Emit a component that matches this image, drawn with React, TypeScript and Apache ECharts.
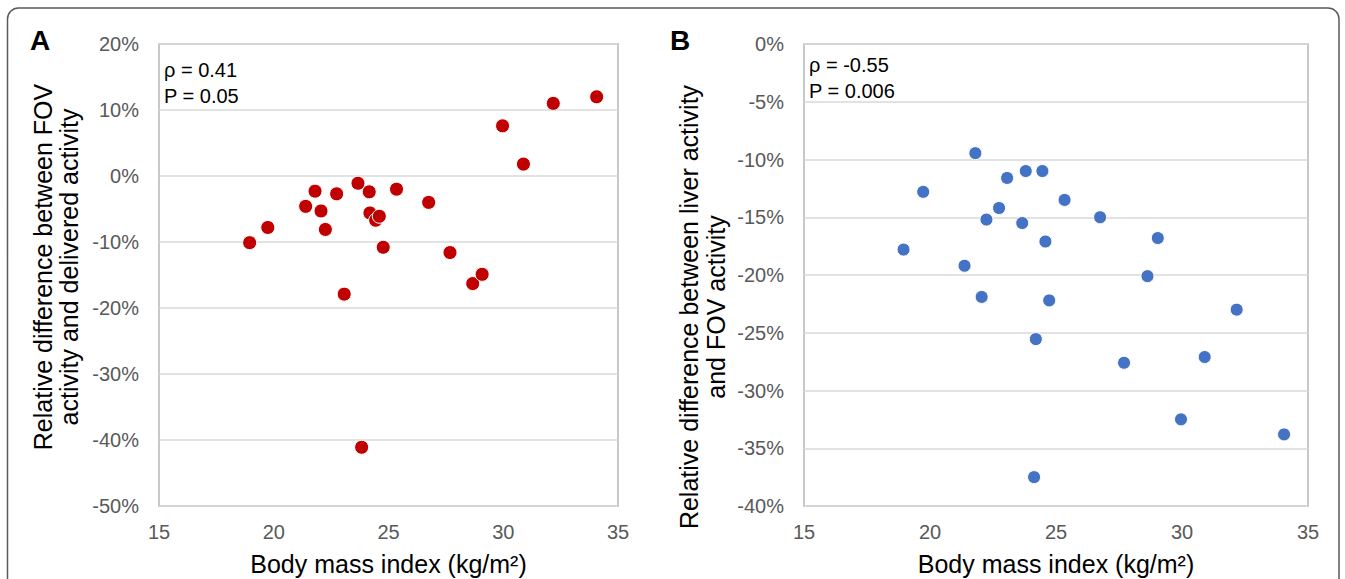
import React, { useEffect, useRef } from "react";
import * as echarts from "echarts";

// Panel A: BMI vs relative difference between FOV activity and delivered activity (%)
const bmiA = [18.95, 19.74, 21.39, 21.8, 22.06, 22.25, 22.74, 23.07, 23.67, 23.83, 24.16, 24.19, 24.44, 24.6, 24.77, 25.35, 26.75, 27.68, 28.67, 29.08, 29.97, 30.88, 32.18, 34.07];
const diffA = [-10.1, -7.8, -4.6, -2.3, -5.3, -8.1, -2.7, -17.9, -1.1, -41.1, -2.4, -5.6, -6.7, -6.1, -10.8, -2.0, -4.0, -11.6, -16.3, -14.9, 7.6, 1.8, 11.0, 12.0];

// Panel B: BMI vs relative difference between liver activity and FOV activity (%)
const bmiB = [18.95, 19.73, 21.37, 21.8, 22.05, 22.24, 22.74, 23.06, 23.66, 23.8, 24.13, 24.2, 24.46, 24.58, 24.73, 25.34, 26.75, 27.7, 28.63, 29.04, 29.96, 30.9, 32.17, 34.05];
const diffB = [-17.8, -12.8, -19.2, -9.45, -21.9, -15.2, -14.2, -11.6, -15.5, -11.0, -37.5, -25.55, -11.0, -17.1, -22.2, -13.5, -15.0, -27.6, -20.1, -16.8, -32.5, -27.1, -23.0, -33.8];

const xTicks = { min: 15, max: 35, interval: 5 };
const yTicksA = { min: -50, max: 20, interval: 10 };
const yTicksB = { min: -40, max: 0, interval: 5 };

const statsA = ["ρ = 0.41", "P = 0.05"];
const statsB = ["ρ = -0.55", "P = 0.006"];
const xTitle = "Body mass index (kg/m²)";
const yTitleA = "Relative difference between FOV\nactivity and delivered activity";
const yTitleB = "Relative difference between liver activity\nand FOV activity";

const FONT = "'Liberation Sans', Arial, sans-serif";

export default function App() {
  const ref = useRef<HTMLDivElement>(null);
  useEffect(() => {
    if (!ref.current) return;
    const chart = echarts.init(ref.current, null, { renderer: "svg" });
    const tickLabel = { color: "#595959", fontSize: 20, fontFamily: FONT };
    const xAxisBase = (gridIndex: number) => ({
      type: "value",
      gridIndex,
      min: xTicks.min,
      max: xTicks.max,
      interval: xTicks.interval,
      axisLine: { show: false },
      axisTick: { show: false },
      splitLine: { show: false },
      axisLabel: { ...tickLabel, margin: 16 },
    });
    const yAxisBase = (gridIndex: number, t: any) => ({
      type: "value",
      gridIndex,
      min: t.min,
      max: t.max,
      interval: t.interval,
      axisLine: { show: false },
      axisTick: { show: false },
      splitLine: { show: true, lineStyle: { color: "#D9D9D9", width: 1.5 } },
      axisLabel: { ...tickLabel, margin: 20, formatter: "{value}%" },
    });
    const option: any = {
      animation: false,
      backgroundColor: "#ffffff",
      grid: [
        { left: 159, top: 44, width: 459, height: 462, show: true, borderColor: "#C8C8C8", borderWidth: 2, backgroundColor: "transparent" },
        { left: 804, top: 44, width: 504, height: 462, show: true, borderColor: "#C8C8C8", borderWidth: 2, backgroundColor: "transparent" },
      ],
      xAxis: [xAxisBase(0), xAxisBase(1)],
      yAxis: [yAxisBase(0, yTicksA), yAxisBase(1, yTicksB)],
      series: [
        {
          type: "scatter",
          xAxisIndex: 0,
          yAxisIndex: 0,
          data: bmiA.map((x, i) => [x, diffA[i]]),
          symbolSize: 14,
          itemStyle: { color: "#C00000", borderColor: "#ffffff", borderWidth: 1, opacity: 1 },
        },
        {
          type: "scatter",
          xAxisIndex: 1,
          yAxisIndex: 1,
          data: bmiB.map((x, i) => [x, diffB[i]]),
          symbolSize: 13,
          itemStyle: { color: "#4472C4", borderColor: "#ffffff", borderWidth: 1, opacity: 1 },
        },
      ],
      graphic: [
        {
          type: "rect",
          z: -10,
          shape: { x: 7.5, y: 8, width: 1331.5, height: 620, r: 11 },
          style: { fill: "none", stroke: "#5a5a5a", lineWidth: 1.5 },
        },
        { type: "text", x: 40, y: 40, style: { text: "A", font: `bold 28px ${FONT}`, fill: "#000", textAlign: "center", textVerticalAlign: "middle" } },
        { type: "text", x: 680, y: 40, style: { text: "B", font: `bold 28px ${FONT}`, fill: "#000", textAlign: "center", textVerticalAlign: "middle" } },
        { type: "text", x: 164, y: 70, style: { text: statsA[0], font: `20px ${FONT}`, fill: "#000", textVerticalAlign: "middle" } },
        { type: "text", x: 164, y: 96, style: { text: statsA[1], font: `20px ${FONT}`, fill: "#000", textVerticalAlign: "middle" } },
        { type: "text", x: 809, y: 65, style: { text: statsB[0], font: `20px ${FONT}`, fill: "#000", textVerticalAlign: "middle" } },
        { type: "text", x: 809, y: 90.5, style: { text: statsB[1], font: `20px ${FONT}`, fill: "#000", textVerticalAlign: "middle" } },
        { type: "text", x: 388.5, y: 564, style: { text: xTitle, font: `25px ${FONT}`, fill: "#000", textAlign: "center", textVerticalAlign: "middle" } },
        { type: "text", x: 1056, y: 564, style: { text: xTitle, font: `25px ${FONT}`, fill: "#000", textAlign: "center", textVerticalAlign: "middle" } },
        {
          type: "text", x: 56, y: 267, rotation: Math.PI / 2,
          style: { text: yTitleA, font: `25px ${FONT}`, fill: "#000", textAlign: "center", textVerticalAlign: "middle", lineHeight: 26 },
        },
        {
          type: "text", x: 702.5, y: 307, rotation: Math.PI / 2,
          style: { text: yTitleB, font: `25px ${FONT}`, fill: "#000", textAlign: "center", textVerticalAlign: "middle", lineHeight: 27 },
        },
      ],
    };
    chart.setOption(option);
    return () => chart.dispose();
  }, []);
  return (
    <div
      ref={ref}
      style={{ position: "fixed", left: 0, top: 0, width: 1345, height: 579, background: "#fff" }}
    />
  );
}
